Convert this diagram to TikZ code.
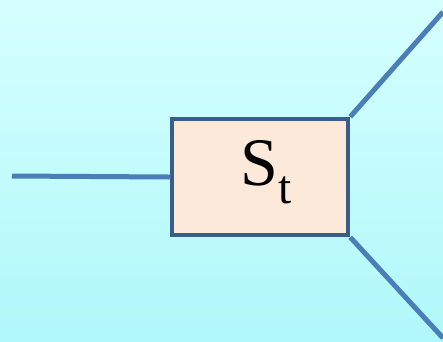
\documentclass[tikz,border=0pt]{standalone}
\usepackage{fontspec}
\setmainfont{Liberation Serif}
\usepackage{tikz}
\usetikzlibrary{positioning}
\definecolor{bgtop}{RGB}{214,255,255}
\definecolor{bgbot}{RGB}{176,248,250}
\definecolor{wire}{RGB}{74,126,187}
\definecolor{boxline}{RGB}{56,93,138}
\definecolor{boxfill}{RGB}{253,233,217}

\begin{document}
\begin{tikzpicture}[x=1pt,y=-1pt,
  stbox/.style={draw=boxline, line width=4.5pt, fill=boxfill,
    minimum width=176pt, minimum height=116pt, inner sep=0pt},
  wire/.style={draw=wire, line width=5pt}]
  \shade[top color=bgtop, bottom color=bgbot] (0,0) rectangle (443,341);
  \useasboundingbox (0,0) rectangle (443,341);
  \node[stbox] (st) at (260,177) {};
  \node[font=\fontsize{68}{68}\selectfont, inner sep=0pt] (lbl)
    at ([xshift=6pt,yshift=5pt]st.center) {S\textsubscript{t}};
  \coordinate (in) at (12,176);
  \coordinate (outa) at (443,12);
  \coordinate (outb) at (443,338);
  \draw[wire] (in) -- (st.west);
  \draw[wire] (st.north east) -- (outa);
  \draw[wire] (st.south east) -- (outb);
\end{tikzpicture}
\end{document}
